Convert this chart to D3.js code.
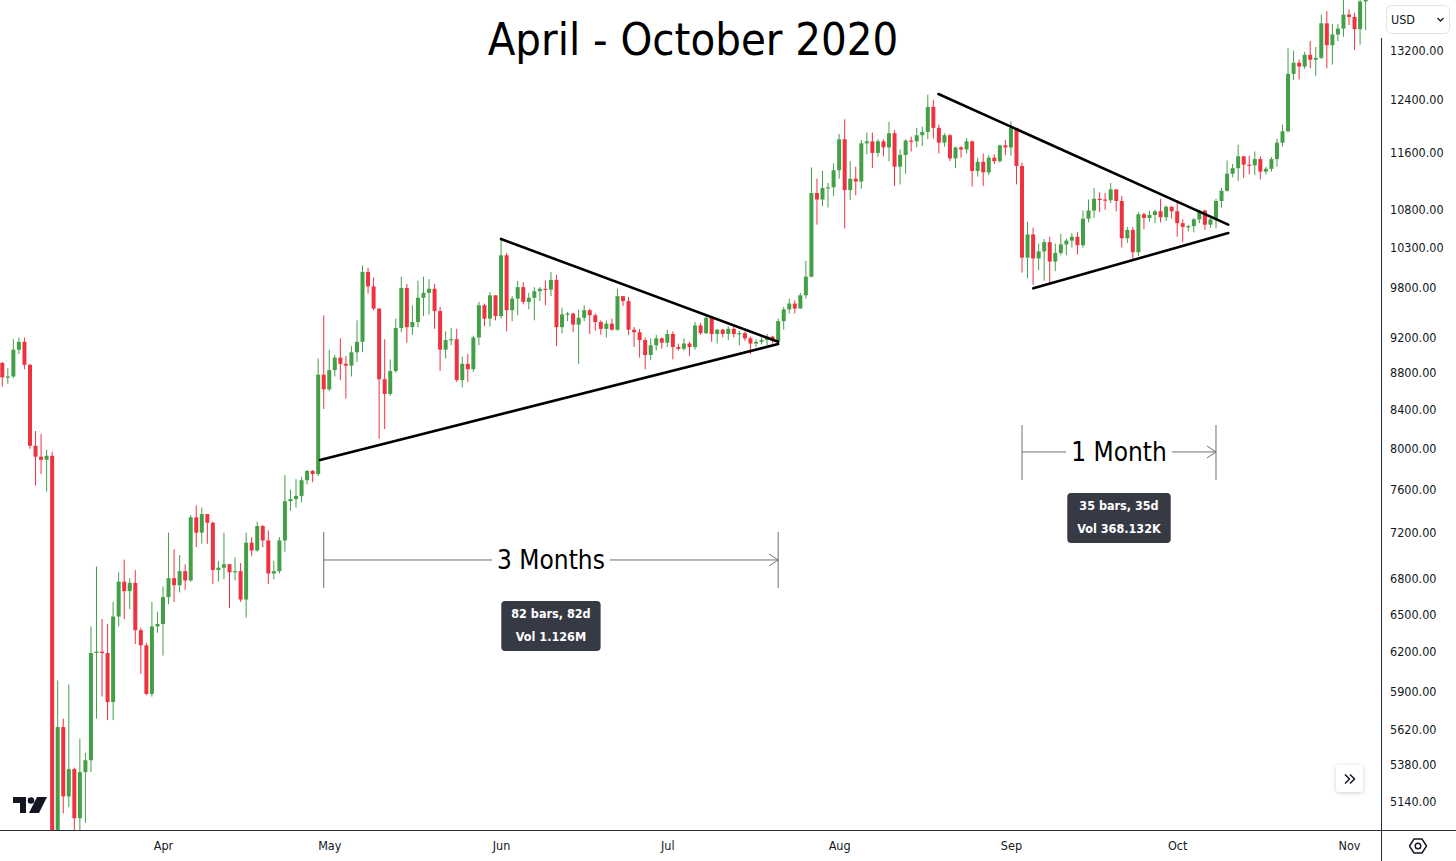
<!DOCTYPE html>
<html lang="en">
<head>
<meta charset="UTF-8">
<title>April - October 2020</title>
<script src="https://cdn.jsdelivr.net/npm/d3@7/dist/d3.min.js"></script>
<style>
  html, body { margin: 0; padding: 0; background: #fff; }
  svg { display: block; }
  text { font-family: "DejaVu Sans Condensed", "DejaVu Sans", sans-serif; }
</style>
</head>
<body>
<script>
var W = 1456, H = 861;
var plotRight = 1381, plotBottom = 830;

// daily candles, BTC/USD, one per day starting at firstDay
var firstDay = "2020-03-03";

var opens = [
  8910, 8750, 8760, 9060, 9150, 8890, 8030, 7920, 7890, 7930, 4850, 5640, 5170, 5350, 5030, 5330, 5410, 6190, 6200, 6190, 5820, 6480, 6770, 6690, 6760, 6370, 6250, 5880, 6400,
  6420, 6640, 6800, 6740, 6860, 6780, 7340, 7200, 7370, 7290, 6870, 6890, 6920, 6850, 6860, 6620, 7110, 7040, 7260, 7130, 6840, 6860, 7130, 7490, 7510, 7540, 7690, 7780, 7750, 8780,
  8620, 8830, 8970, 8900, 8880, 9030, 9150, 9990, 9810, 9540, 8730, 8570, 8820, 9310, 9790, 9320, 9380, 9670, 9730, 9780, 9510, 9060, 9170, 9180, 8720, 8900, 8840, 9200, 9580, 9420, 9700,
  9450, 10200, 9520, 9660, 9800, 9620, 9670, 9750, 9780, 9770, 9890, 9320, 9470, 9480, 9350, 9430, 9520, 9460, 9380, 9300, 9360, 9290, 9690, 9630, 9290, 9260, 9170, 9000, 9110, 9190,
  9140, 9240, 9090, 9070, 9130, 9090, 9340, 9250, 9430, 9240, 9290, 9240, 9300, 9240, 9250, 9190, 9130, 9150, 9170, 9210, 9160, 9390, 9530, 9600, 9540, 9700, 9930, 11030, 10940, 11100, 11110,
  11350, 11800, 11070, 11230, 11190, 11740, 11770, 11600, 11770, 11680, 11890, 11400, 11570, 11780, 11770, 11860, 11910, 12290, 11970, 11750, 11860, 11520, 11680, 11650, 11770, 11340, 11470, 11320, 11530, 11480, 11710,
  11680, 11970, 11410, 10170, 10470, 10160, 10250, 10370, 10120, 10230, 10340, 10390, 10440, 10330, 10680, 10790, 10950, 10940, 10930, 11080, 10920, 10420, 10530, 10240, 10740, 10690, 10730, 10780, 10700, 10840,
  10780, 10620, 10570, 10580, 10670, 10790, 10600, 10670, 10920, 11060, 11300, 11380, 11550, 11430, 11420, 11510, 11330, 11370, 11510, 11750, 11920, 12810, 12990, 12930, 13120, 13040, 13070, 13650, 13280, 13460, 13560,
  13800, 13760, 13550, 14030
];
var highs = [
  8920, 8850, 9180, 9200, 9200, 8900, 8180, 8150, 7990, 7970, 5980, 5700, 5950, 5360, 5560, 5460, 6400, 6900, 6460, 6420, 6600, 6850, 6960, 6800, 6870, 6390, 6270, 6600, 6520,
  6730, 7200, 7050, 7000, 6920, 7360, 7450, 7430, 7370, 7300, 6950, 7200, 6920, 6980, 6930, 7200, 7160, 7300, 7270, 7220, 6950, 7160, 7740, 7600, 7700, 7720, 7790, 7790, 8960, 9460,
  9060, 9000, 9190, 8990, 9100, 9400, 10070, 10040, 9920, 9540, 9180, 8950, 9420, 9930, 9840, 9580, 9880, 9930, 9900, 9840, 9560, 9270, 9310, 9300, 8980, 9010, 9220, 9620, 9600, 9740, 9700,
  10430, 10230, 9690, 9880, 9860, 9730, 9800, 9800, 9880, 9990, 9950, 9550, 9500, 9490, 9530, 9580, 9540, 9480, 9400, 9400, 9420, 9780, 9690, 9680, 9320, 9300, 9200, 9190, 9230, 9200,
  9290, 9270, 9130, 9190, 9150, 9380, 9370, 9470, 9450, 9300, 9300, 9330, 9340, 9280, 9270, 9210, 9180, 9200, 9240, 9220, 9420, 9560, 9660, 9640, 9730, 10130, 11390, 11230, 11340, 11170, 11450,
  11880, 12100, 11480, 11400, 11790, 11900, 11900, 11800, 11800, 12060, 11940, 11650, 11800, 11840, 11970, 11990, 12480, 12400, 12020, 11890, 11880, 11690, 11700, 11820, 11780, 11530, 11590, 11570, 11580, 11720, 11790,
  12070, 11970, 11460, 10640, 10560, 10350, 10410, 10440, 10350, 10480, 10420, 10490, 10500, 10790, 10940, 11100, 11040, 11030, 11170, 11080, 10990, 10570, 10570, 10770, 10760, 10790, 10800, 10950, 10860, 10850,
  10930, 10670, 10600, 10690, 10800, 10800, 10690, 10950, 11100, 11490, 11440, 11720, 11550, 11560, 11620, 11550, 11400, 11540, 11810, 12020, 13230, 13190, 13040, 13170, 13350, 13250, 13800, 13860, 13640, 13640, 14100,
  13890, 13830, 14070, 14250
];
var lows = [
  8650, 8680, 8740, 9010, 8840, 8000, 7640, 7750, 7580, 4400, 3850, 5060, 5100, 4440, 4950, 5000, 5330, 5700, 5860, 5690, 5690, 6400, 6460, 6540, 6260, 6030, 5870, 5860, 6350,
  6170, 6580, 6600, 6680, 6700, 6770, 7070, 7100, 7100, 6750, 6770, 6790, 6550, 6780, 6600, 6470, 6990, 7030, 7070, 6750, 6790, 6840, 7030, 7400, 7430, 7480, 7650, 7670, 7730, 8410,
  8600, 8760, 8720, 8520, 8760, 8920, 9030, 9720, 9520, 8100, 8200, 8550, 8800, 9260, 9140, 9230, 9320, 9450, 9470, 9300, 8820, 8960, 9110, 8700, 8640, 8700, 8810, 9110, 9330, 9330, 9400,
  9420, 9270, 9390, 9460, 9590, 9530, 9400, 9630, 9580, 9690, 9100, 9250, 9390, 9260, 8900, 9390, 9240, 9280, 9230, 9200, 9280, 9280, 9570, 9230, 9090, 8970, 8840, 8940, 9050, 9070,
  9090, 8950, 9050, 9050, 8990, 9060, 9230, 9240, 9150, 9130, 9200, 9170, 9200, 9110, 9160, 9010, 9090, 9120, 9110, 9130, 9150, 9290, 9480, 9480, 9540, 9660, 9920, 10600, 10850, 10830, 10990,
  11230, 10550, 10930, 11000, 11090, 11580, 11380, 11540, 11550, 11480, 11130, 11150, 11300, 11620, 11680, 11700, 11800, 11810, 11590, 11690, 11480, 11380, 11530, 11590, 11120, 11260, 11130, 11280, 11440, 11460, 11570,
  11560, 11150, 9980, 9910, 9830, 10010, 9880, 9850, 10000, 10200, 10200, 10300, 10210, 10300, 10630, 10690, 10770, 10800, 10890, 10780, 10300, 10360, 10140, 10190, 10540, 10640, 10620, 10630, 10650, 10680,
  10440, 10370, 10510, 10500, 10620, 10530, 10560, 10550, 10830, 11050, 11250, 11200, 11240, 11290, 11280, 11220, 11290, 11330, 11400, 11690, 11900, 12710, 12720, 12890, 12900, 12780, 13050, 12900, 12960, 13350, 13420,
  13620, 13200, 13290, 13530
];
var closes = [
  8750, 8760, 9060, 9150, 8890, 8030, 7920, 7890, 7930, 4850, 5640, 5170, 5350, 5030, 5330, 5410, 6190, 6200, 6190, 5820, 6480, 6770, 6690, 6760, 6370, 6250, 5880, 6400, 6420,
  6640, 6800, 6740, 6860, 6780, 7340, 7200, 7370, 7290, 6870, 6890, 6920, 6850, 6860, 6620, 7110, 7040, 7260, 7130, 6840, 6860, 7130, 7490, 7510, 7540, 7690, 7780, 7750, 8780, 8620,
  8830, 8970, 8900, 8880, 9030, 9150, 9990, 9810, 9540, 8730, 8570, 8820, 9310, 9790, 9320, 9380, 9670, 9730, 9780, 9510, 9060, 9170, 9180, 8720, 8900, 8840, 9200, 9580, 9420, 9700, 9450,
  10200, 9520, 9660, 9800, 9620, 9670, 9750, 9780, 9770, 9890, 9320, 9470, 9480, 9350, 9430, 9520, 9460, 9380, 9300, 9360, 9290, 9690, 9630, 9290, 9260, 9170, 9000, 9110, 9190, 9140,
  9240, 9090, 9070, 9130, 9090, 9340, 9250, 9430, 9240, 9290, 9240, 9300, 9240, 9250, 9190, 9130, 9150, 9170, 9210, 9160, 9390, 9530, 9600, 9540, 9700, 9930, 11030, 10940, 11100, 11110, 11350,
  11800, 11070, 11230, 11190, 11740, 11770, 11600, 11770, 11680, 11890, 11400, 11570, 11780, 11770, 11860, 11910, 12290, 11970, 11750, 11860, 11520, 11680, 11650, 11770, 11340, 11470, 11320, 11530, 11480, 11710, 11680,
  11970, 11410, 10170, 10470, 10160, 10250, 10370, 10120, 10230, 10340, 10390, 10440, 10330, 10680, 10790, 10950, 10940, 10930, 11080, 10920, 10420, 10530, 10240, 10740, 10690, 10730, 10780, 10700, 10840, 10780,
  10620, 10570, 10580, 10670, 10790, 10600, 10670, 10920, 11060, 11300, 11380, 11550, 11430, 11420, 11510, 11330, 11370, 11510, 11750, 11920, 12810, 12990, 12930, 13120, 13040, 13070, 13650, 13280, 13460, 13560, 13800,
  13760, 13550, 14030, 14150
];

var priceTicks = [13200, 12400, 11600, 10800, 10300, 9800, 9200, 8800, 8400, 8000, 7600, 7200, 6800, 6500, 6200, 5900, 5620, 5380, 5140];
var monthTicks = ["2020-04-01", "2020-05-01", "2020-06-01", "2020-07-01", "2020-08-01", "2020-09-01", "2020-10-01", "2020-11-01"];

// drawn trend lines (triangles), [time, price]
var trendLines = [
  [["2020-04-29T08:00", 7888], ["2020-07-21T00:00", 9125]],
  [["2020-06-01T00:00", 10410], ["2020-07-21T00:00", 9150]],
  [["2020-08-18T22:00", 12490], ["2020-10-10T05:00", 10600]],
  [["2020-09-05T01:00", 9785], ["2020-10-10T05:00", 10490]]
];

// date range measurements
var measureStarts = ["2020-04-30", "2020-09-03"];
var measureEnds = ["2020-07-21", "2020-10-08"];
var measureMid = [6957, 7968];
var measureTop = [7207, 8242];
var measureBottom = [6717, 7692];
var measureLabels = ["3 Months", "1 Month"];
var measureInfo = [["82 bars, 82d", "Vol 1.126M"], ["35 bars, 35d", "Vol 368.132K"]];

var upColor = "#43a047", downColor = "#ee3340";
var ink = "#131722";

var parseDay = d3.utcParse("%Y-%m-%d");
var parseTime = d3.utcParse("%Y-%m-%dT%H:%M");
var day0 = parseDay(firstDay);

var candles = closes.map(function(c, i) {
  return { date: d3.utcDay.offset(day0, i), o: opens[i], h: highs[i], l: lows[i], c: c };
});

var x = d3.scaleUtc()
  .domain([parseDay("2020-04-01"), parseDay("2020-11-01")])
  .range([163, 1349]);
var y = d3.scaleLog()
  .domain([5140, 13200])
  .range([801, 50]);

var svg = d3.select("body").append("svg")
  .attr("width", W)
  .attr("height", H);

svg.append("rect").attr("width", W).attr("height", H).attr("fill", "#fff");

var defs = svg.append("defs");
defs.append("clipPath").attr("id", "plot")
  .append("rect").attr("x", 0).attr("y", 0).attr("width", plotRight).attr("height", plotBottom);
var sh = defs.append("filter").attr("id", "shadow").attr("x", "-50%").attr("y", "-50%").attr("width", "200%").attr("height", "200%");
sh.append("feDropShadow").attr("dx", 0).attr("dy", 1).attr("stdDeviation", 2).attr("flood-color", "#000").attr("flood-opacity", 0.18);

// candles
var plot = svg.append("g").attr("clip-path", "url(#plot)");
var bodyW = 4;

var candle = plot.selectAll(".candle")
  .data(candles)
  .enter().append("g")
  .attr("class", "candle");

candle.append("line")
  .attr("x1", function(d) { return x(d.date); })
  .attr("x2", function(d) { return x(d.date); })
  .attr("y1", function(d) { return y(d.h); })
  .attr("y2", function(d) { return y(d.l); })
  .attr("stroke", function(d) { return d.c >= d.o ? upColor : downColor; })
  .attr("stroke-width", 1);

candle.append("rect")
  .attr("x", function(d) { return x(d.date) - bodyW / 2; })
  .attr("width", bodyW)
  .attr("y", function(d) { return y(Math.max(d.o, d.c)); })
  .attr("height", function(d) { return Math.max(1.2, Math.abs(y(d.o) - y(d.c))); })
  .attr("fill", function(d) { return d.c >= d.o ? upColor : downColor; });

// trend lines
svg.append("g").selectAll("line")
  .data(trendLines)
  .enter().append("line")
  .attr("x1", function(d) { return x(parseTime(d[0][0])); })
  .attr("y1", function(d) { return y(d[0][1]); })
  .attr("x2", function(d) { return x(parseTime(d[1][0])); })
  .attr("y2", function(d) { return y(d[1][1]); })
  .attr("stroke", "#000")
  .attr("stroke-width", 2.6)
  .attr("stroke-linecap", "round");

// measurements
var measureColor = "#6f6f6f";
measureStarts.forEach(function(s, i) {
  var x0 = x(parseDay(s)), x1 = x(parseDay(measureEnds[i]));
  var ym = y(measureMid[i]), yt = y(measureTop[i]), yb = y(measureBottom[i]);
  var cx = (x0 + x1) / 2;
  var g = svg.append("g");

  g.append("line").attr("x1", x0).attr("x2", x0).attr("y1", yt).attr("y2", yb)
    .attr("stroke", measureColor).attr("stroke-width", 1);
  g.append("line").attr("x1", x1).attr("x2", x1).attr("y1", yt).attr("y2", yb)
    .attr("stroke", measureColor).attr("stroke-width", 1);

  var label = g.append("text")
    .attr("x", cx).attr("y", ym).attr("dy", "0.36em")
    .attr("text-anchor", "middle")
    .attr("font-size", 26)
    .style("fill", "#000")
    .text(measureLabels[i]);
  var tw = label.node().getComputedTextLength();

  g.append("line").attr("x1", x0).attr("x2", cx - tw / 2 - 5).attr("y1", ym).attr("y2", ym)
    .attr("stroke", measureColor).attr("stroke-width", 1);
  g.append("line").attr("x1", cx + tw / 2 + 5).attr("x2", x1).attr("y1", ym).attr("y2", ym)
    .attr("stroke", measureColor).attr("stroke-width", 1);
  g.append("path")
    .attr("d", "M" + (x1 - 9) + "," + (ym - 6) + "L" + x1 + "," + ym + "L" + (x1 - 9) + "," + (ym + 6))
    .attr("fill", "none").attr("stroke", measureColor).attr("stroke-width", 1);

  var info = g.append("g");
  var t1 = info.append("text").attr("x", cx).attr("y", ym + 58).attr("text-anchor", "middle")
    .attr("font-size", 12.5).attr("font-weight", "bold").style("fill", "#fff").text(measureInfo[i][0]);
  var t2 = info.append("text").attr("x", cx).attr("y", ym + 81).attr("text-anchor", "middle")
    .attr("font-size", 12.5).attr("font-weight", "bold").style("fill", "#fff").text(measureInfo[i][1]);
  var bw = Math.max(t1.node().getComputedTextLength(), t2.node().getComputedTextLength()) + 20;
  info.insert("rect", "text")
    .attr("x", cx - bw / 2).attr("y", ym + 41).attr("width", bw).attr("height", 50)
    .attr("rx", 4).attr("fill", "#363a45");
});

// title
svg.append("text")
  .attr("x", 693).attr("y", 55)
  .attr("text-anchor", "middle")
  .attr("font-size", 45)
  .style("fill", "#000")
  .text("April - October 2020");

// axes
var yAxis = d3.axisRight(y)
  .tickValues(priceTicks)
  .tickFormat(d3.format(".2f"))
  .tickSize(0)
  .tickPadding(9);
var gy = svg.append("g").attr("transform", "translate(" + plotRight + ",0)").call(yAxis);
gy.select(".domain").remove();
gy.selectAll("text").attr("font-size", 12.5).style("fill", ink)
  .style("font-family", '"DejaVu Sans Condensed", "DejaVu Sans", sans-serif');

var xAxis = d3.axisBottom(x)
  .tickValues(monthTicks.map(parseDay))
  .tickFormat(d3.utcFormat("%b"))
  .tickSize(0)
  .tickPadding(11);
var gx = svg.append("g").attr("transform", "translate(0," + plotBottom + ")").call(xAxis);
gx.select(".domain").remove();
gx.selectAll("text").attr("font-size", 12.5).style("fill", ink)
  .style("font-family", '"DejaVu Sans Condensed", "DejaVu Sans", sans-serif');

// frame lines
svg.append("line").attr("x1", 0).attr("x2", W).attr("y1", plotBottom + 0.5).attr("y2", plotBottom + 0.5)
  .attr("stroke", "#2a2e39").attr("stroke-width", 1);
svg.append("line").attr("x1", plotRight + 0.5).attr("x2", plotRight + 0.5).attr("y1", 38).attr("y2", H)
  .attr("stroke", "#2a2e39").attr("stroke-width", 1);

// currency selector
svg.append("rect").attr("x", 1386.5).attr("y", 5.5).attr("width", 63).attr("height", 28).attr("rx", 5)
  .attr("fill", "#fff").attr("stroke", "#e0e3eb");
svg.append("text").attr("x", 1391).attr("y", 24).attr("font-size", 12.5).style("fill", ink).text("USD");
svg.append("path").attr("d", "M1437.5,18 l3,3 l3,-3").attr("fill", "none").attr("stroke", ink).attr("stroke-width", 1.3);

// scroll button
svg.append("rect").attr("x", 1336).attr("y", 765).attr("width", 27).attr("height", 27).attr("rx", 4)
  .attr("fill", "#fff").attr("filter", "url(#shadow)");
svg.append("path").attr("d", "M1345,774.5 l4.5,4.5 l-4.5,4.5 M1350,774.5 l4.5,4.5 l-4.5,4.5")
  .attr("fill", "none").attr("stroke", ink).attr("stroke-width", 1.5);

// settings icon
svg.append("path").attr("d", "M1409.5,846 L1414,839 L1422,839 L1426.5,846 L1422,853 L1414,853 Z")
  .attr("fill", "none").attr("stroke", ink).attr("stroke-width", 1.4).attr("stroke-linejoin", "round");
svg.append("circle").attr("cx", 1418).attr("cy", 846).attr("r", 2.8)
  .attr("fill", "none").attr("stroke", ink).attr("stroke-width", 1.4);

// logo
var logo = svg.append("g").attr("fill", ink);
logo.append("path").attr("d", "M13,797 H26 V813 H20 V803 H13 Z");
logo.append("circle").attr("cx", 31).attr("cy", 800.5).attr("r", 3.3);
logo.append("path").attr("d", "M37,797 H47 L39,813 H29 Z");
</script>
</body>
</html>
